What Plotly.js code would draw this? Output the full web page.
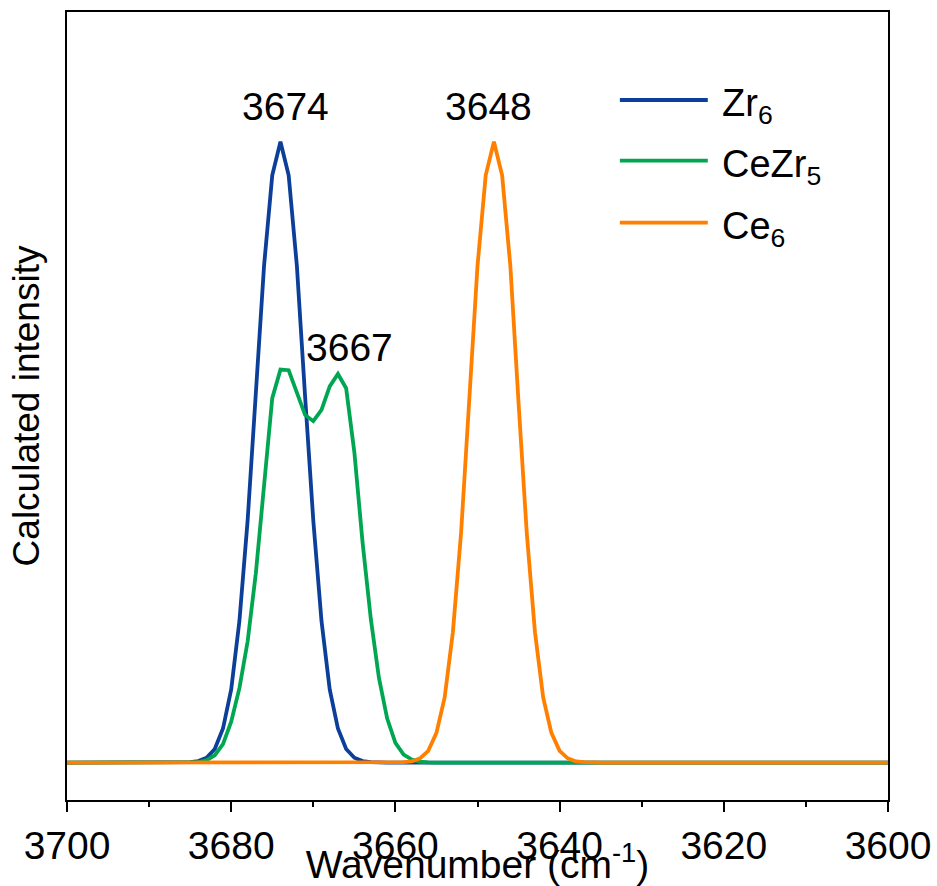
<!DOCTYPE html>
<html>
<head>
<meta charset="utf-8">
<script src="https://cdn.plot.ly/plotly-3.0.1.min.js"></script>
<style>html,body{margin:0;padding:0;background:#fff;}#chart{width:937px;height:886px;}</style>
</head>
<body>
<div id="chart"></div>
<script>
// Wavenumber (cm-1) and calculated intensity
var zr6X = [3700, 3687, 3686, 3685, 3684, 3683, 3682, 3681, 3680, 3679, 3678, 3677, 3676, 3675, 3674, 3673, 3672, 3671, 3670, 3669, 3668, 3667, 3666, 3665, 3664, 3663, 3662, 3661, 3600];
var zr6Y = [0, 0, 0.0002, 0.0008, 0.0026, 0.008, 0.022, 0.055, 0.118, 0.228, 0.39, 0.59, 0.80, 0.946, 1.0, 0.946, 0.80, 0.59, 0.39, 0.228, 0.118, 0.055, 0.022, 0.008, 0.0026, 0.0008, 0.0002, 0, 0];

var ceZr5X = [3700, 3686, 3685, 3684, 3683, 3682, 3681, 3680, 3679, 3678, 3677, 3676, 3675, 3674, 3673, 3672, 3671, 3670, 3669, 3668, 3667, 3666, 3665, 3664, 3663, 3662, 3661, 3660, 3659, 3658, 3657, 3656, 3655, 3600];
var ceZr5Y = [0, 0, 0.0003, 0.001, 0.004, 0.012, 0.030, 0.066, 0.120, 0.195, 0.305, 0.44, 0.587, 0.633, 0.632, 0.596, 0.56, 0.55, 0.568, 0.606, 0.626, 0.603, 0.50, 0.355, 0.232, 0.136, 0.071, 0.032, 0.013, 0.005, 0.0015, 0.0004, 0, 0];

var ce6X = [3700, 3661, 3660, 3659, 3658, 3657, 3656, 3655, 3654, 3653, 3652, 3651, 3650, 3649, 3648, 3647, 3646, 3645, 3644, 3643, 3642, 3641, 3640, 3639, 3638, 3637, 3636, 3635, 3600];
var ce6Y = [0, 0, 0.0002, 0.0008, 0.002, 0.007, 0.019, 0.048, 0.105, 0.21, 0.37, 0.58, 0.80, 0.946, 1.0, 0.946, 0.80, 0.58, 0.37, 0.21, 0.105, 0.048, 0.019, 0.007, 0.002, 0.0008, 0.0002, 0, 0];

var seriesNames = ['Zr<sub>6</sub>', 'CeZr<sub>5</sub>', 'Ce<sub>6</sub>'];
var seriesColors = ['#0b3f99', '#00a651', '#ff8000'];

// Peak labels
var peakLabels = ['3674', '3667', '3648'];
var peakLabelX = [3673.4, 3665.6, 3648.7];
var peakLabelY = [1.056, 0.668, 1.056];

var xTickVals = [3700, 3680, 3660, 3640, 3620, 3600];

var FONT = 'Arial, "Liberation Sans", sans-serif';
var FS = 39;

var traces = [
  {x: zr6X, y: zr6Y, name: seriesNames[0]},
  {x: ceZr5X, y: ceZr5Y, name: seriesNames[1]},
  {x: ce6X, y: ce6Y, name: seriesNames[2]}
].map(function (t, i) {
  t.type = 'scatter';
  t.mode = 'lines';
  t.line = {color: seriesColors[i], width: 3.8};
  t.showlegend = false;
  t.hoverinfo = 'skip';
  return t;
});

var annotations = peakLabels.map(function (txt, i) {
  return {x: peakLabelX[i], y: peakLabelY[i], xref: 'x', yref: 'y', text: txt,
    showarrow: false, xanchor: 'center', yanchor: 'middle',
    font: {family: FONT, size: FS, color: '#000'}};
});

// Custom legend (long line samples like the reference)
var legY = [0.8883, 0.8113, 0.7326];
var shapes = [];
seriesNames.forEach(function (nm, i) {
  shapes.push({type: 'line', xref: 'paper', yref: 'paper', x0: 0.6734, x1: 0.7805,
    y0: legY[i], y1: legY[i], line: {color: seriesColors[i], width: 3.8}});
  annotations.push({xref: 'paper', yref: 'paper', x: 0.795, y: legY[i], text: nm,
    showarrow: false, xanchor: 'left', yanchor: 'middle', yshift: -6,
    font: {family: FONT, size: 38, color: '#000'}});
});

var layout = {
  width: 937, height: 886,
  margin: {l: 67, r: 49, t: 12, b: 86, pad: 0},
  paper_bgcolor: '#fff', plot_bgcolor: '#fff',
  font: {family: FONT, size: FS, color: '#000'},
  xaxis: {
    range: [3700, 3600], tickvals: xTickVals, ticktext: xTickVals.map(String),
    ticks: 'outside', ticklen: 10, tickwidth: 2, tickcolor: '#000',
    minor: {dtick: 10, tick0: 3600, ticks: 'outside', ticklen: 5, tickwidth: 2, tickcolor: '#000', showgrid: false},
    showline: true, linewidth: 2, linecolor: '#000', mirror: true,
    showgrid: false, zeroline: false,
    tickfont: {family: FONT, size: FS, color: '#000'},
    title: {text: 'Wavenumber (cm<sup>-1</sup>)', standoff: 0, font: {family: FONT, size: FS, color: '#000'}}
  },
  yaxis: {
    range: [-0.0601, 1.2089],
    showticklabels: false, ticks: '',
    showline: true, linewidth: 2, linecolor: '#000', mirror: true,
    showgrid: false, zeroline: false,
    title: {text: 'Calculated intensity', standoff: 14, font: {family: FONT, size: 37, color: '#000'}}
  },
  annotations: annotations,
  shapes: shapes
};

Plotly.newPlot('chart', traces, layout, {displayModeBar: false, staticPlot: true});
</script>
</body>
</html>
